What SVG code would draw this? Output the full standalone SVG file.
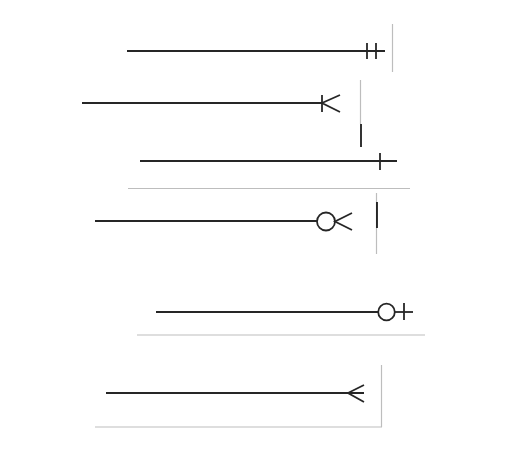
<svg xmlns="http://www.w3.org/2000/svg" width="527" height="475" viewBox="0 0 527 475">
<style>
.ln{stroke:#262626;stroke-width:1.8;fill:none;stroke-linecap:butt}
.ed{stroke:#bdbdbd;stroke-width:1.2;fill:none}
.bk{stroke:#000;stroke-width:1.6;fill:none}
.ci{stroke:#262626;stroke-width:1.8;fill:#fff}
</style>
<rect width="527" height="475" fill="#fff"/>
<g id="boundaries">
  <line class="ed" x1="392.5" y1="24" x2="392.5" y2="72"/>
  <line class="ed" x1="360.5" y1="80" x2="360.5" y2="124"/>
  <line class="bk" x1="361" y1="124" x2="361" y2="147"/>
  <line class="ed" x1="128" y1="188.5" x2="410" y2="188.5"/>
  <line class="ed" x1="376.5" y1="193" x2="376.5" y2="254"/>
  <line class="bk" x1="377" y1="202" x2="377" y2="228"/>
  <line class="ed" x1="137" y1="335" x2="425" y2="335"/>
  <line class="ed" x1="381.5" y1="365" x2="381.5" y2="427"/>
  <line class="ed" x1="95" y1="427" x2="382" y2="427"/>
</g>
<g id="connectors">
  <g id="one-and-only-one">
    <line class="ln" x1="127" y1="51" x2="385" y2="51"/>
    <line class="ln" x1="367" y1="43" x2="367" y2="59"/>
    <line class="ln" x1="376" y1="43" x2="376" y2="59"/>
  </g>
  <g id="one-or-many">
    <line class="ln" x1="82" y1="103" x2="322" y2="103"/>
    <line class="ln" x1="322" y1="95" x2="322" y2="112"/>
    <path class="ln" d="M340,95 L322,103 L340,112"/>
  </g>
  <g id="one">
    <line class="ln" x1="140" y1="161" x2="397" y2="161"/>
    <line class="ln" x1="380" y1="153" x2="380" y2="170"/>
  </g>
  <g id="zero-or-many">
    <line class="ln" x1="95" y1="221" x2="317" y2="221"/>
    <circle class="ci" cx="326" cy="221.5" r="9"/>
    <path class="ln" d="M352,213 L335,221.5 L352,230"/>
  </g>
  <g id="zero-or-one">
    <line class="ln" x1="156" y1="312" x2="378" y2="312"/>
    <circle class="ci" cx="386.5" cy="312" r="8.3"/>
    <line class="ln" x1="395" y1="312" x2="413" y2="312"/>
    <line class="ln" x1="404" y1="303" x2="404" y2="320"/>
  </g>
  <g id="many">
    <line class="ln" x1="106" y1="393" x2="364" y2="393"/>
    <path class="ln" d="M364,385 L348,393 L364,402"/>
  </g>
</g>
</svg>
